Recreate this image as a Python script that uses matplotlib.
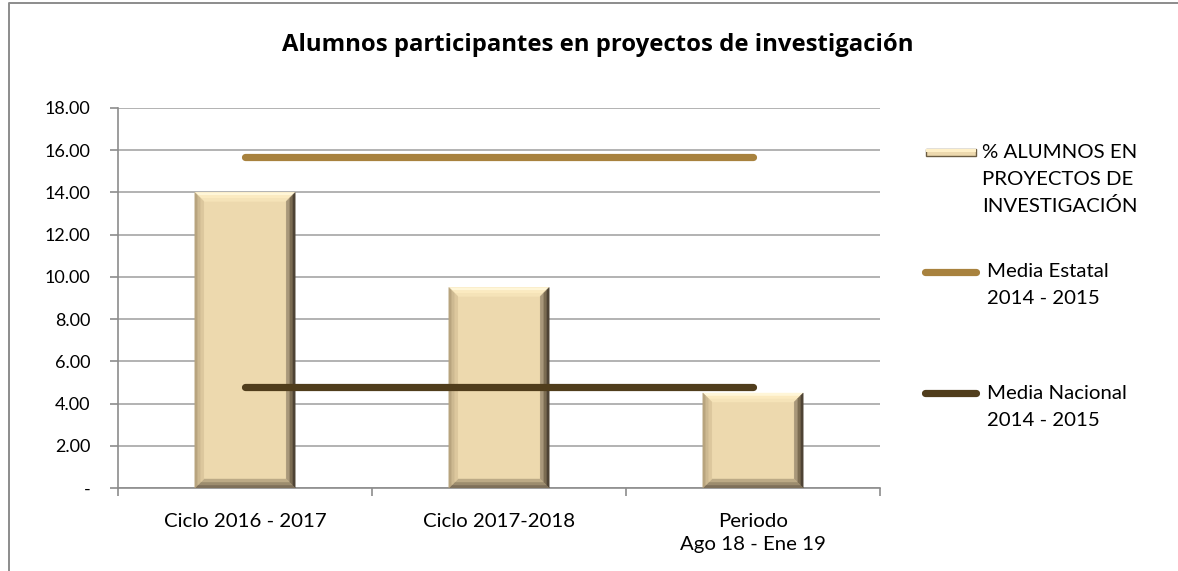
import matplotlib
matplotlib.use("Agg")
import matplotlib.pyplot as plt
from matplotlib.patches import Polygon, Rectangle
from matplotlib.lines import Line2D
import numpy as np

categories = ["Ciclo 2016 - 2017", "Ciclo 2017-2018", "Periodo\nAgo 18 - Ene 19"]
alumnos_pct = [14.0, 9.5, 4.5]
media_estatal = [15.7, 15.7, 15.7]
media_nacional = [4.8, 4.8, 4.8]
yticks = [0, 2, 4, 6, 8, 10, 12, 14, 16, 18]
ytick_labels = ["-", "2.00", "4.00", "6.00", "8.00", "10.00", "12.00", "14.00", "16.00", "18.00"]
title = "Alumnos participantes en proyectos de investigación"
legend_labels = [["% ALUMNOS EN", "PROYECTOS DE", "INVESTIGACIÓN"],
                 ["Media Estatal", "2014 - 2015"],
                 ["Media Nacional", "2014 - 2015"]]

plt.rcParams['font.family'] = ['Lato', 'DejaVu Sans']
YFS = 13
XFS = 14.7
LFS = 14.7

W, H = 1178, 571
fig = plt.figure(figsize=(W/100, H/100), dpi=100)
fig.patch.set_facecolor("white")
# outer chart border (left and top visible)
fig.add_artist(Line2D([8.5/W, 8.5/W, 1.0], [0, 1 - 2.5/H, 1 - 2.5/H], transform=fig.transFigure,
                      color="#8c8c8c", lw=1.4))

ax = fig.add_axes([118/W, 1 - 488/H, 762/W, 380/H])
x = np.arange(len(categories))
bar_color = "#EDD9AE"
bars = ax.bar(x, alumnos_pct, width=0.395, color=bar_color, zorder=2)

ax.set_xlim(-0.5, len(categories) - 0.5)
ax.set_ylim(0, 18)
ax.set_yticks(yticks)
ax.set_yticklabels(ytick_labels, fontsize=YFS)
ax.set_xticks(x)
ax.set_xticklabels(categories, fontsize=XFS, linespacing=1.45)
ax.tick_params(axis="x", length=0, pad=18)
ax.set_xticks(np.arange(-0.5, len(categories)), minor=True)
ax.tick_params(axis="x", which="minor", length=6, color="#8c8c8c", width=1.2)
ax.tick_params(axis="y", length=6, color="#8c8c8c", width=1.2, pad=14)
ax.yaxis.grid(True, color="#a6a6a6", lw=1.2, zorder=0)
ax.set_axisbelow(True)
for s in ["top", "right"]:
    ax.spines[s].set_visible(False)
for s in ["left", "bottom"]:
    ax.spines[s].set_color("#8c8c8c")
    ax.spines[s].set_linewidth(1.2)

# bevel effect on bars (computed from bar geometry)
fig.canvas.draw()
inv = ax.transData.inverted()

def d(px, py):
    return inv.transform((px, py))

bands = [  # (inset start, inset end, top, right, bottom, left)
    (0, 3, "#FFF6D8", "#4E4334", "#7E705A", "#B8A47E"),
    (3, 6, "#FBEAC0", "#7B6C52", "#9C8C6E", "#CDB991"),
    (6, 9, "#F5E3B8", "#A8977A", "#BCAA86", "#DCC79D"),
]
for b in bars:
    x0, y0 = b.get_x(), b.get_y()
    x1, y1 = x0 + b.get_width(), y0 + b.get_height()
    (px0, py0) = ax.transData.transform((x0, y0))
    (px1, py1) = ax.transData.transform((x1, y1))
    for a, e, ct, cr, cb, cl in bands:
        o = [d(px0 + a, py1 - a), d(px1 - a, py1 - a), d(px1 - a, py0 + a), d(px0 + a, py0 + a)]
        i = [d(px0 + e, py1 - e), d(px1 - e, py1 - e), d(px1 - e, py0 + e), d(px0 + e, py0 + e)]
        for pts, c in [([o[0], o[1], i[1], i[0]], ct), ([o[1], o[2], i[2], i[1]], cr),
                       ([o[2], o[3], i[3], i[2]], cb), ([o[3], o[0], i[0], i[3]], cl)]:
            ax.add_patch(Polygon(pts, closed=True, facecolor=c, edgecolor=c, lw=0.3, zorder=3))

ax.plot(x, media_estatal, color="#A8823E", lw=5.2, solid_capstyle="round", zorder=5)
ax.plot(x, media_nacional, color="#503D1C", lw=5.2, solid_capstyle="round", zorder=5)

fig.text(0.5 * (283 + 912) / W, 1 - 45/H, title, ha="center", va="center",
         fontsize=17.2, fontweight="bold", family=["Open Sans", "DejaVu Sans"])

# legend (drawn manually so handle aligns with first text line)
def fy(py):
    return 1 - py / H
hx0, hx1 = 926, 976
fig.add_artist(Rectangle((hx0 / W, fy(156)), (hx1 - hx0) / W, 7 / H, transform=fig.transFigure,
                         facecolor=bar_color, edgecolor="#6b5c42", lw=1.0))
fig.add_artist(Rectangle((hx0 / W, fy(152)), (hx1 - hx0) / W, 2.5 / H, transform=fig.transFigure,
                         facecolor="#FFF0C8", edgecolor="none"))
fig.add_artist(Line2D([925 / W, 976 / W], [fy(272), fy(272)], transform=fig.transFigure,
                      color="#A8823E", lw=5.2, solid_capstyle="round"))
fig.add_artist(Line2D([925 / W, 976 / W], [fy(393), fy(393)], transform=fig.transFigure,
                      color="#503D1C", lw=5.2, solid_capstyle="round"))
entry_x = [982, 987, 987]
entry_base = [158, 277, 399]
line_step = 27
for lines, ex, eb in zip(legend_labels, entry_x, entry_base):
    for k, t in enumerate(lines):
        fig.text(ex / W, fy(eb + k * line_step), t, ha="left", va="baseline", fontsize=LFS)

fig.savefig("out.png", dpi=100)
